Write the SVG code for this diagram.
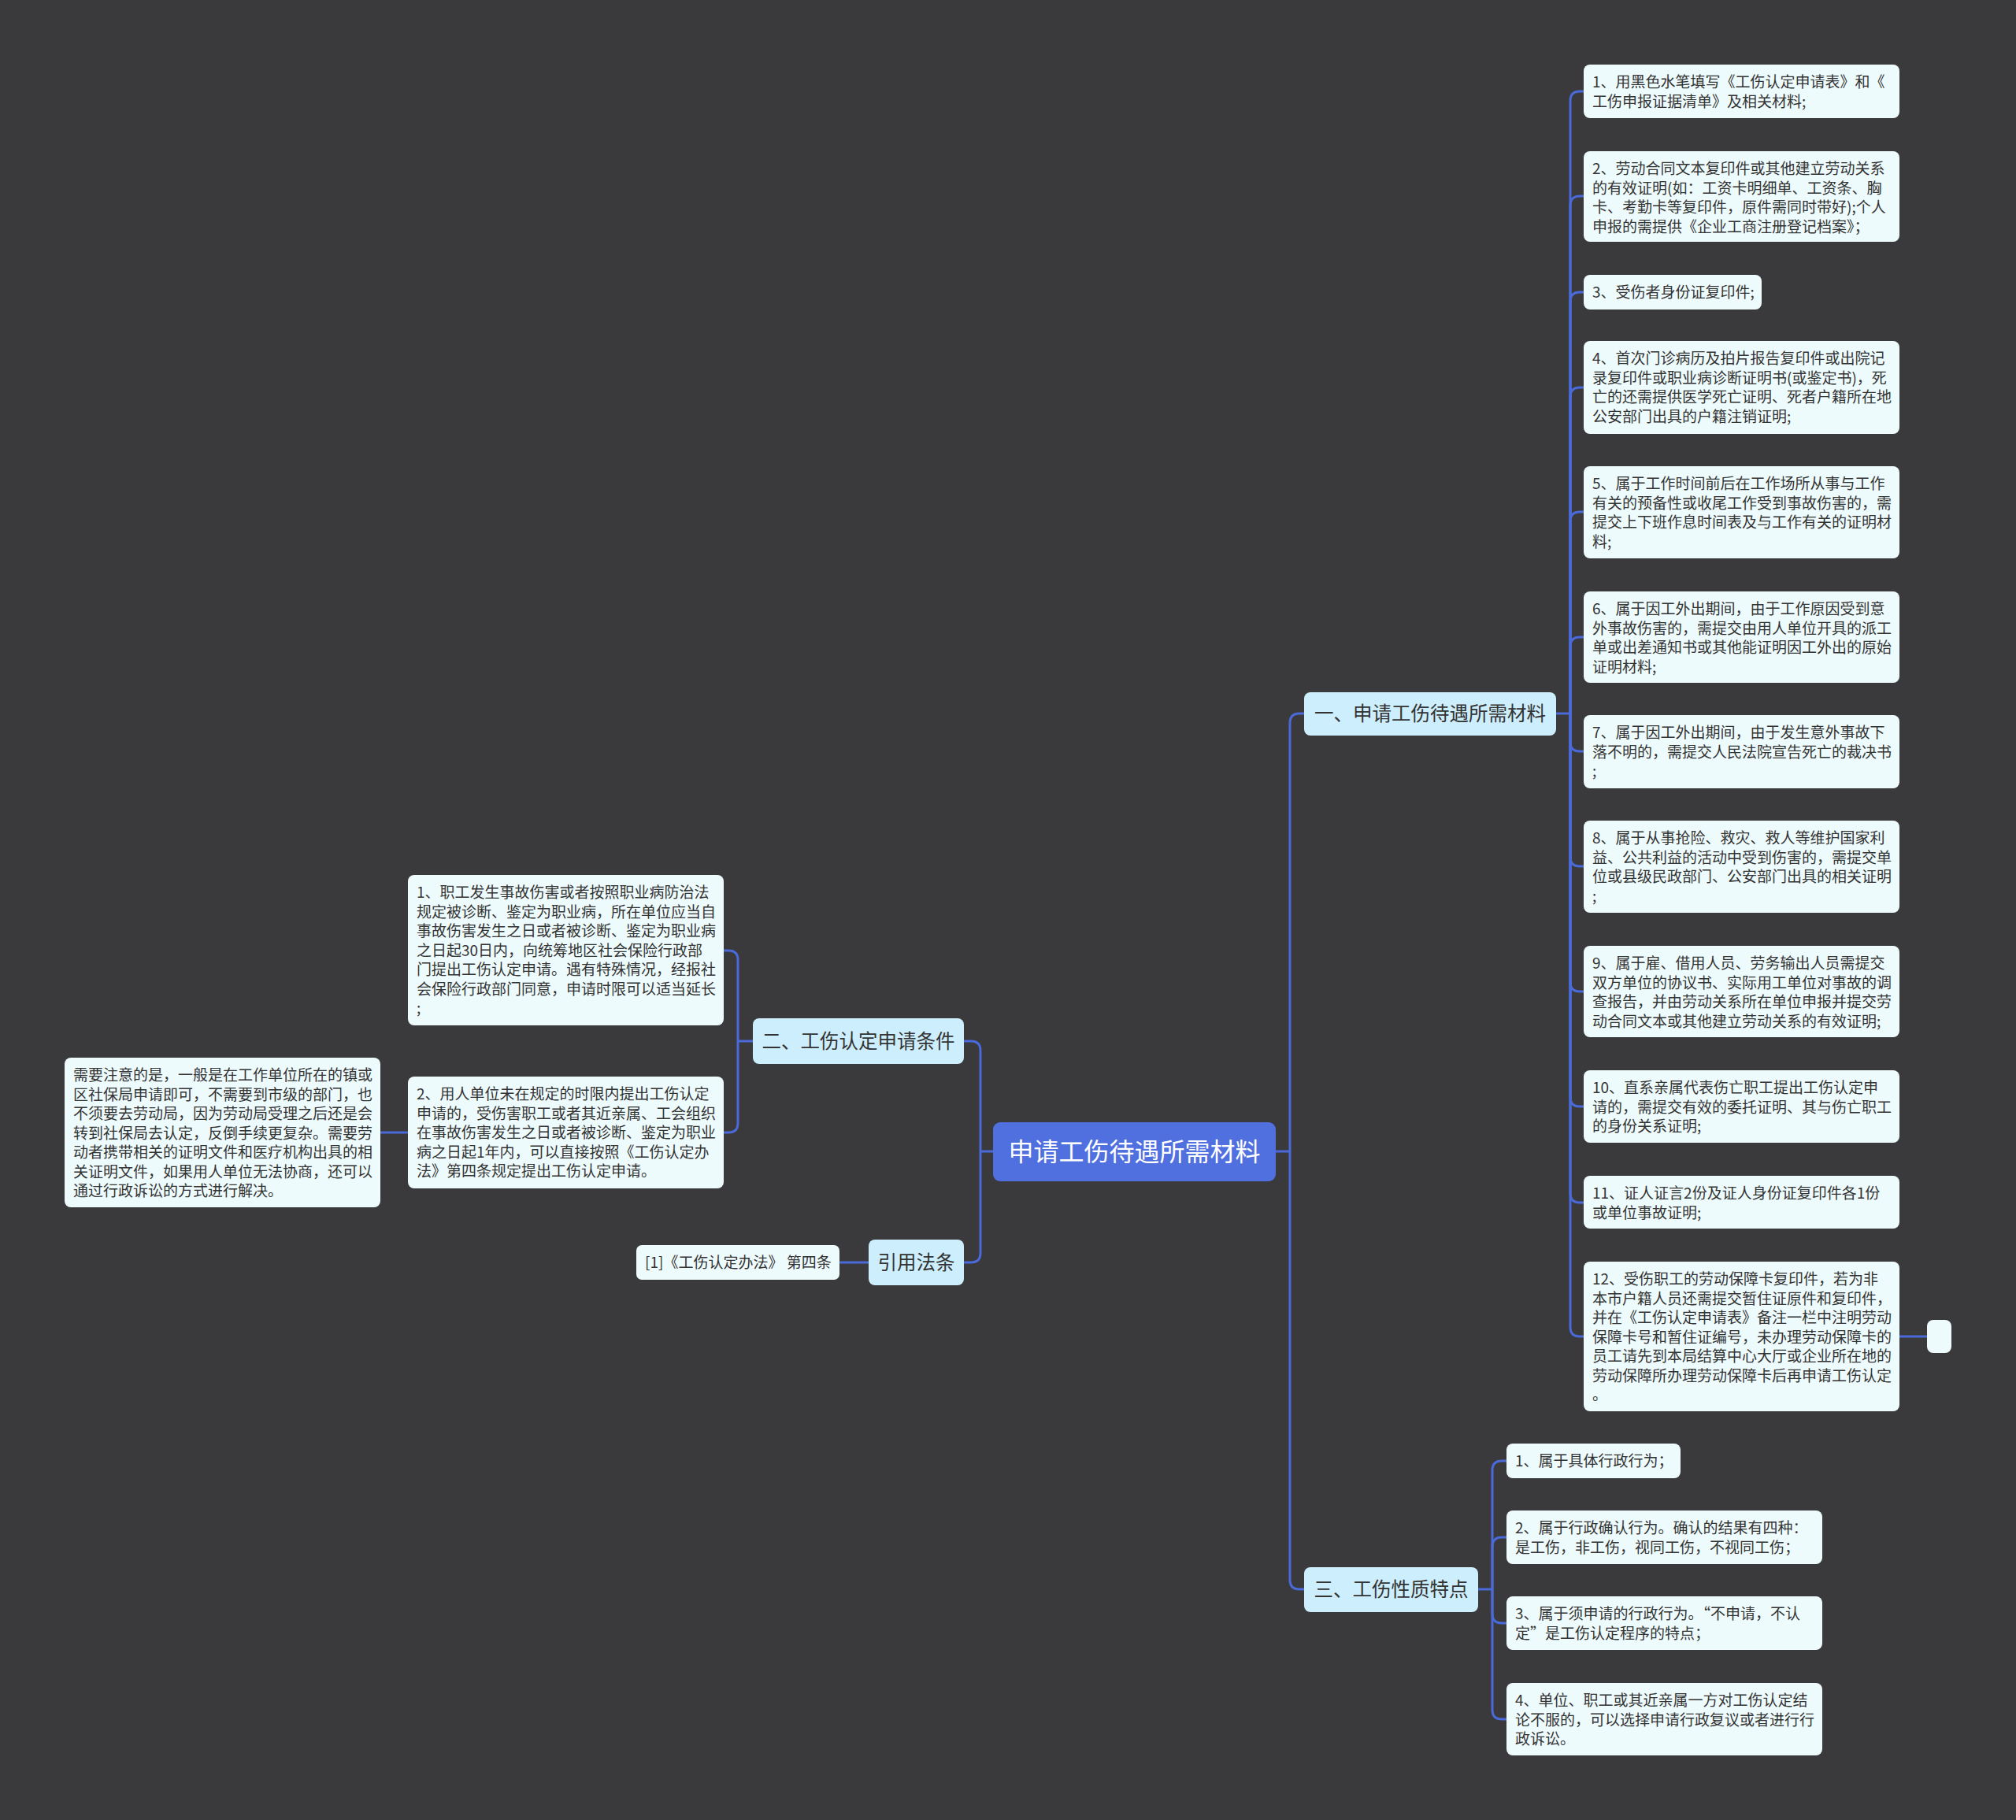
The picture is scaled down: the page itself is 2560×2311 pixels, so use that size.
<svg xmlns="http://www.w3.org/2000/svg" width="2560" height="2311" viewBox="0 0 2560 2311">
<style>
.leaf{fill:#eefbfd}
.l1{fill:#cdeefc}
.root{fill:#5170e0}
.t{font-family:"Noto Sans CJK SC","Noto Sans",sans-serif;font-size:19px;fill:#333333}
.t1{font-family:"Noto Sans CJK SC","Noto Sans",sans-serif;font-size:24.5px;fill:#333333}
.tr{font-family:"Noto Sans CJK SC","Noto Sans",sans-serif;font-size:32px;fill:#ffffff}
.conn{fill:none;stroke:#4a6ad9;stroke-width:3}
</style>
<rect width="2560" height="2311" fill="#3a393b"/>
<g id="connectors">
<path class="conn" d="M1261 1462 H1245"/>
<path class="conn" d="M1245 1462 V1334 Q1245 1322 1233 1322 H1224"/>
<path class="conn" d="M1245 1462 V1591 Q1245 1603 1233 1603 H1224"/>
<path class="conn" d="M1620 1462 H1638"/>
<path class="conn" d="M1638 1462 V918 Q1638 906 1650 906 H1656"/>
<path class="conn" d="M1638 1462 V2006 Q1638 2018 1650 2018 H1656"/>
<path class="conn" d="M956 1322 H937"/>
<path class="conn" d="M937 1322 V1219 Q937 1207 925 1207 H919"/>
<path class="conn" d="M937 1322 V1426 Q937 1438 925 1438 H919"/>
<path class="conn" d="M518 1438 H483"/>
<path class="conn" d="M1103 1603 H1066"/>
<path class="conn" d="M1976 906 H1994"/>
<path class="conn" d="M1994 906 V128 Q1994 116 2006 116 H2011"/>
<path class="conn" d="M1994 906 V261 Q1994 249 2006 249 H2011"/>
<path class="conn" d="M1994 906 V383 Q1994 371 2006 371 H2011"/>
<path class="conn" d="M1994 906 V504 Q1994 492 2006 492 H2011"/>
<path class="conn" d="M1994 906 V662 Q1994 650 2006 650 H2011"/>
<path class="conn" d="M1994 906 V821 Q1994 809 2006 809 H2011"/>
<path class="conn" d="M1994 906 V942 Q1994 954 2006 954 H2011"/>
<path class="conn" d="M1994 906 V1088 Q1994 1100 2006 1100 H2011"/>
<path class="conn" d="M1994 906 V1247 Q1994 1259 2006 1259 H2011"/>
<path class="conn" d="M1994 906 V1393 Q1994 1405 2006 1405 H2011"/>
<path class="conn" d="M1994 906 V1515 Q1994 1527 2006 1527 H2011"/>
<path class="conn" d="M1994 906 V1685 Q1994 1697 2006 1697 H2011"/>
<path class="conn" d="M2412 1697 H2447"/>
<path class="conn" d="M1877 2018 H1895"/>
<path class="conn" d="M1895 2018 V1867 Q1895 1855 1907 1855 H1913"/>
<path class="conn" d="M1895 2018 V1964 Q1895 1952 1907 1952 H1913"/>
<path class="conn" d="M1895 2018 V2049 Q1895 2061 1907 2061 H1913"/>
<path class="conn" d="M1895 2018 V2171 Q1895 2183 1907 2183 H1913"/>
</g>
<g id="root">
<rect class="root" x="1261" y="1425" width="359" height="75" rx="9"/>
<text class="tr" x="1440.5" y="1474" text-anchor="middle">申请工伤待遇所需材料</text>
</g>
<g id="b2">
<rect class="l1" x="956" y="1293" width="268" height="58" rx="8"/>
<text class="t1" x="1090" y="1331" text-anchor="middle">二、工伤认定申请条件</text>
</g>
<g id="bref">
<rect class="l1" x="1103" y="1574" width="121" height="58" rx="8"/>
<text class="t1" x="1163.5" y="1612" text-anchor="middle">引用法条</text>
</g>
<g id="b1">
<rect class="l1" x="1656" y="879" width="320" height="55" rx="8"/>
<text class="t1" x="1816" y="915" text-anchor="middle">一、申请工伤待遇所需材料</text>
</g>
<g id="b3">
<rect class="l1" x="1656" y="1990" width="221" height="57" rx="8"/>
<text class="t1" x="1766.5" y="2027" text-anchor="middle">三、工伤性质特点</text>
</g>
<g id="ref1">
<rect class="leaf" x="808" y="1581" width="258" height="44" rx="7"/>
<text class="t" x="819" y="1610" font-size="18">[1]《工伤认定办法》 第四条</text>
</g>
<g id="c2-1">
<rect class="leaf" x="518" y="1111" width="401" height="191" rx="8"/>
<text class="t" x="529" y="1140"><tspan x="529">1、职工发生事故伤害或者按照职业病防治法</tspan><tspan x="529" dy="24.5">规定被诊断、鉴定为职业病，所在单位应当自</tspan><tspan x="529" dy="24.5">事故伤害发生之日或者被诊断、鉴定为职业病</tspan><tspan x="529" dy="24.5">之日起30日内，向统筹地区社会保险行政部</tspan><tspan x="529" dy="24.5">门提出工伤认定申请。遇有特殊情况，经报社</tspan><tspan x="529" dy="24.5">会保险行政部门同意，申请时限可以适当延长</tspan><tspan x="529" dy="24.5">;</tspan></text>
</g>
<g id="c2-2">
<rect class="leaf" x="518" y="1367" width="401" height="142" rx="8"/>
<text class="t" x="529" y="1396"><tspan x="529">2、用人单位未在规定的时限内提出工伤认定</tspan><tspan x="529" dy="24.5">申请的，受伤害职工或者其近亲属、工会组织</tspan><tspan x="529" dy="24.5">在事故伤害发生之日或者被诊断、鉴定为职业</tspan><tspan x="529" dy="24.5">病之日起1年内，可以直接按照《工伤认定办</tspan><tspan x="529" dy="24.5">法》第四条规定提出工伤认定申请。</tspan></text>
</g>
<g id="note">
<rect class="leaf" x="82" y="1343" width="401" height="190" rx="8"/>
<text class="t" x="93" y="1372"><tspan x="93">需要注意的是，一般是在工作单位所在的镇或</tspan><tspan x="93" dy="24.5">区社保局申请即可，不需要到市级的部门，也</tspan><tspan x="93" dy="24.5">不须要去劳动局，因为劳动局受理之后还是会</tspan><tspan x="93" dy="24.5">转到社保局去认定，反倒手续更复杂。需要劳</tspan><tspan x="93" dy="24.5">动者携带相关的证明文件和医疗机构出具的相</tspan><tspan x="93" dy="24.5">关证明文件，如果用人单位无法协商，还可以</tspan><tspan x="93" dy="24.5">通过行政诉讼的方式进行解决。</tspan></text>
</g>
<g id="c1-1">
<rect class="leaf" x="2011" y="82" width="401" height="68" rx="8"/>
<text class="t" x="2022" y="111"><tspan x="2022">1、用黑色水笔填写《工伤认定申请表》和《</tspan><tspan x="2022" dy="24.5">工伤申报证据清单》及相关材料;</tspan></text>
</g>
<g id="c1-2">
<rect class="leaf" x="2011" y="192" width="401" height="115" rx="8"/>
<text class="t" x="2022" y="221"><tspan x="2022">2、劳动合同文本复印件或其他建立劳动关系</tspan><tspan x="2022" dy="24.5">的有效证明(如：工资卡明细单、工资条、胸</tspan><tspan x="2022" dy="24.5">卡、考勤卡等复印件，原件需同时带好);个人</tspan><tspan x="2022" dy="24.5">申报的需提供《企业工商注册登记档案》；</tspan></text>
</g>
<g id="c1-3">
<rect class="leaf" x="2011" y="349" width="226" height="44" rx="8"/>
<text class="t" x="2022" y="378">3、受伤者身份证复印件;</text>
</g>
<g id="c1-4">
<rect class="leaf" x="2011" y="433" width="401" height="118" rx="8"/>
<text class="t" x="2022" y="462"><tspan x="2022">4、首次门诊病历及拍片报告复印件或出院记</tspan><tspan x="2022" dy="24.5">录复印件或职业病诊断证明书(或鉴定书)，死</tspan><tspan x="2022" dy="24.5">亡的还需提供医学死亡证明、死者户籍所在地</tspan><tspan x="2022" dy="24.5">公安部门出具的户籍注销证明;</tspan></text>
</g>
<g id="c1-5">
<rect class="leaf" x="2011" y="592" width="401" height="117" rx="8"/>
<text class="t" x="2022" y="621"><tspan x="2022">5、属于工作时间前后在工作场所从事与工作</tspan><tspan x="2022" dy="24.5">有关的预备性或收尾工作受到事故伤害的，需</tspan><tspan x="2022" dy="24.5">提交上下班作息时间表及与工作有关的证明材</tspan><tspan x="2022" dy="24.5">料;</tspan></text>
</g>
<g id="c1-6">
<rect class="leaf" x="2011" y="751" width="401" height="116" rx="8"/>
<text class="t" x="2022" y="780"><tspan x="2022">6、属于因工外出期间，由于工作原因受到意</tspan><tspan x="2022" dy="24.5">外事故伤害的，需提交由用人单位开具的派工</tspan><tspan x="2022" dy="24.5">单或出差通知书或其他能证明因工外出的原始</tspan><tspan x="2022" dy="24.5">证明材料;</tspan></text>
</g>
<g id="c1-7">
<rect class="leaf" x="2011" y="908" width="401" height="93" rx="8"/>
<text class="t" x="2022" y="937"><tspan x="2022">7、属于因工外出期间，由于发生意外事故下</tspan><tspan x="2022" dy="24.5">落不明的，需提交人民法院宣告死亡的裁决书</tspan><tspan x="2022" dy="24.5">;</tspan></text>
</g>
<g id="c1-8">
<rect class="leaf" x="2011" y="1042" width="401" height="117" rx="8"/>
<text class="t" x="2022" y="1071"><tspan x="2022">8、属于从事抢险、救灾、救人等维护国家利</tspan><tspan x="2022" dy="24.5">益、公共利益的活动中受到伤害的，需提交单</tspan><tspan x="2022" dy="24.5">位或县级民政部门、公安部门出具的相关证明</tspan><tspan x="2022" dy="24.5">;</tspan></text>
</g>
<g id="c1-9">
<rect class="leaf" x="2011" y="1201" width="401" height="116" rx="8"/>
<text class="t" x="2022" y="1230"><tspan x="2022">9、属于雇、借用人员、劳务输出人员需提交</tspan><tspan x="2022" dy="24.5">双方单位的协议书、实际用工单位对事故的调</tspan><tspan x="2022" dy="24.5">查报告，并由劳动关系所在单位申报并提交劳</tspan><tspan x="2022" dy="24.5">动合同文本或其他建立劳动关系的有效证明;</tspan></text>
</g>
<g id="c1-10">
<rect class="leaf" x="2011" y="1359" width="401" height="92" rx="8"/>
<text class="t" x="2022" y="1388"><tspan x="2022">10、直系亲属代表伤亡职工提出工伤认定申</tspan><tspan x="2022" dy="24.5">请的，需提交有效的委托证明、其与伤亡职工</tspan><tspan x="2022" dy="24.5">的身份关系证明;</tspan></text>
</g>
<g id="c1-11">
<rect class="leaf" x="2011" y="1493" width="401" height="67" rx="8"/>
<text class="t" x="2022" y="1522"><tspan x="2022">11、证人证言2份及证人身份证复印件各1份</tspan><tspan x="2022" dy="24.5">或单位事故证明;</tspan></text>
</g>
<g id="c1-12">
<rect class="leaf" x="2011" y="1602" width="401" height="190" rx="8"/>
<text class="t" x="2022" y="1631"><tspan x="2022">12、受伤职工的劳动保障卡复印件，若为非</tspan><tspan x="2022" dy="24.5">本市户籍人员还需提交暂住证原件和复印件，</tspan><tspan x="2022" dy="24.5">并在《工伤认定申请表》备注一栏中注明劳动</tspan><tspan x="2022" dy="24.5">保障卡号和暂住证编号，未办理劳动保障卡的</tspan><tspan x="2022" dy="24.5">员工请先到本局结算中心大厅或企业所在地的</tspan><tspan x="2022" dy="24.5">劳动保障所办理劳动保障卡后再申请工伤认定</tspan><tspan x="2022" dy="24.5">。</tspan></text>
</g>
<g id="c1-12-empty">
<rect class="leaf" x="2447" y="1676" width="31" height="42" rx="8"/>
</g>
<g id="c3-1">
<rect class="leaf" x="1913" y="1833" width="221" height="44" rx="8"/>
<text class="t" x="1924" y="1862">1、属于具体行政行为；</text>
</g>
<g id="c3-2">
<rect class="leaf" x="1913" y="1918" width="401" height="68" rx="8"/>
<text class="t" x="1924" y="1947"><tspan x="1924">2、属于行政确认行为。确认的结果有四种：</tspan><tspan x="1924" dy="24.5">是工伤，非工伤，视同工伤，不视同工伤；</tspan></text>
</g>
<g id="c3-3">
<rect class="leaf" x="1913" y="2027" width="401" height="68" rx="8"/>
<text class="t" x="1924" y="2056"><tspan x="1924">3、属于须申请的行政行为。“不申请，不认</tspan><tspan x="1924" dy="24.5">定”是工伤认定程序的特点；</tspan></text>
</g>
<g id="c3-4">
<rect class="leaf" x="1913" y="2137" width="401" height="92" rx="8"/>
<text class="t" x="1924" y="2166"><tspan x="1924">4、单位、职工或其近亲属一方对工伤认定结</tspan><tspan x="1924" dy="24.5">论不服的，可以选择申请行政复议或者进行行</tspan><tspan x="1924" dy="24.5">政诉讼。</tspan></text>
</g>
</svg>
